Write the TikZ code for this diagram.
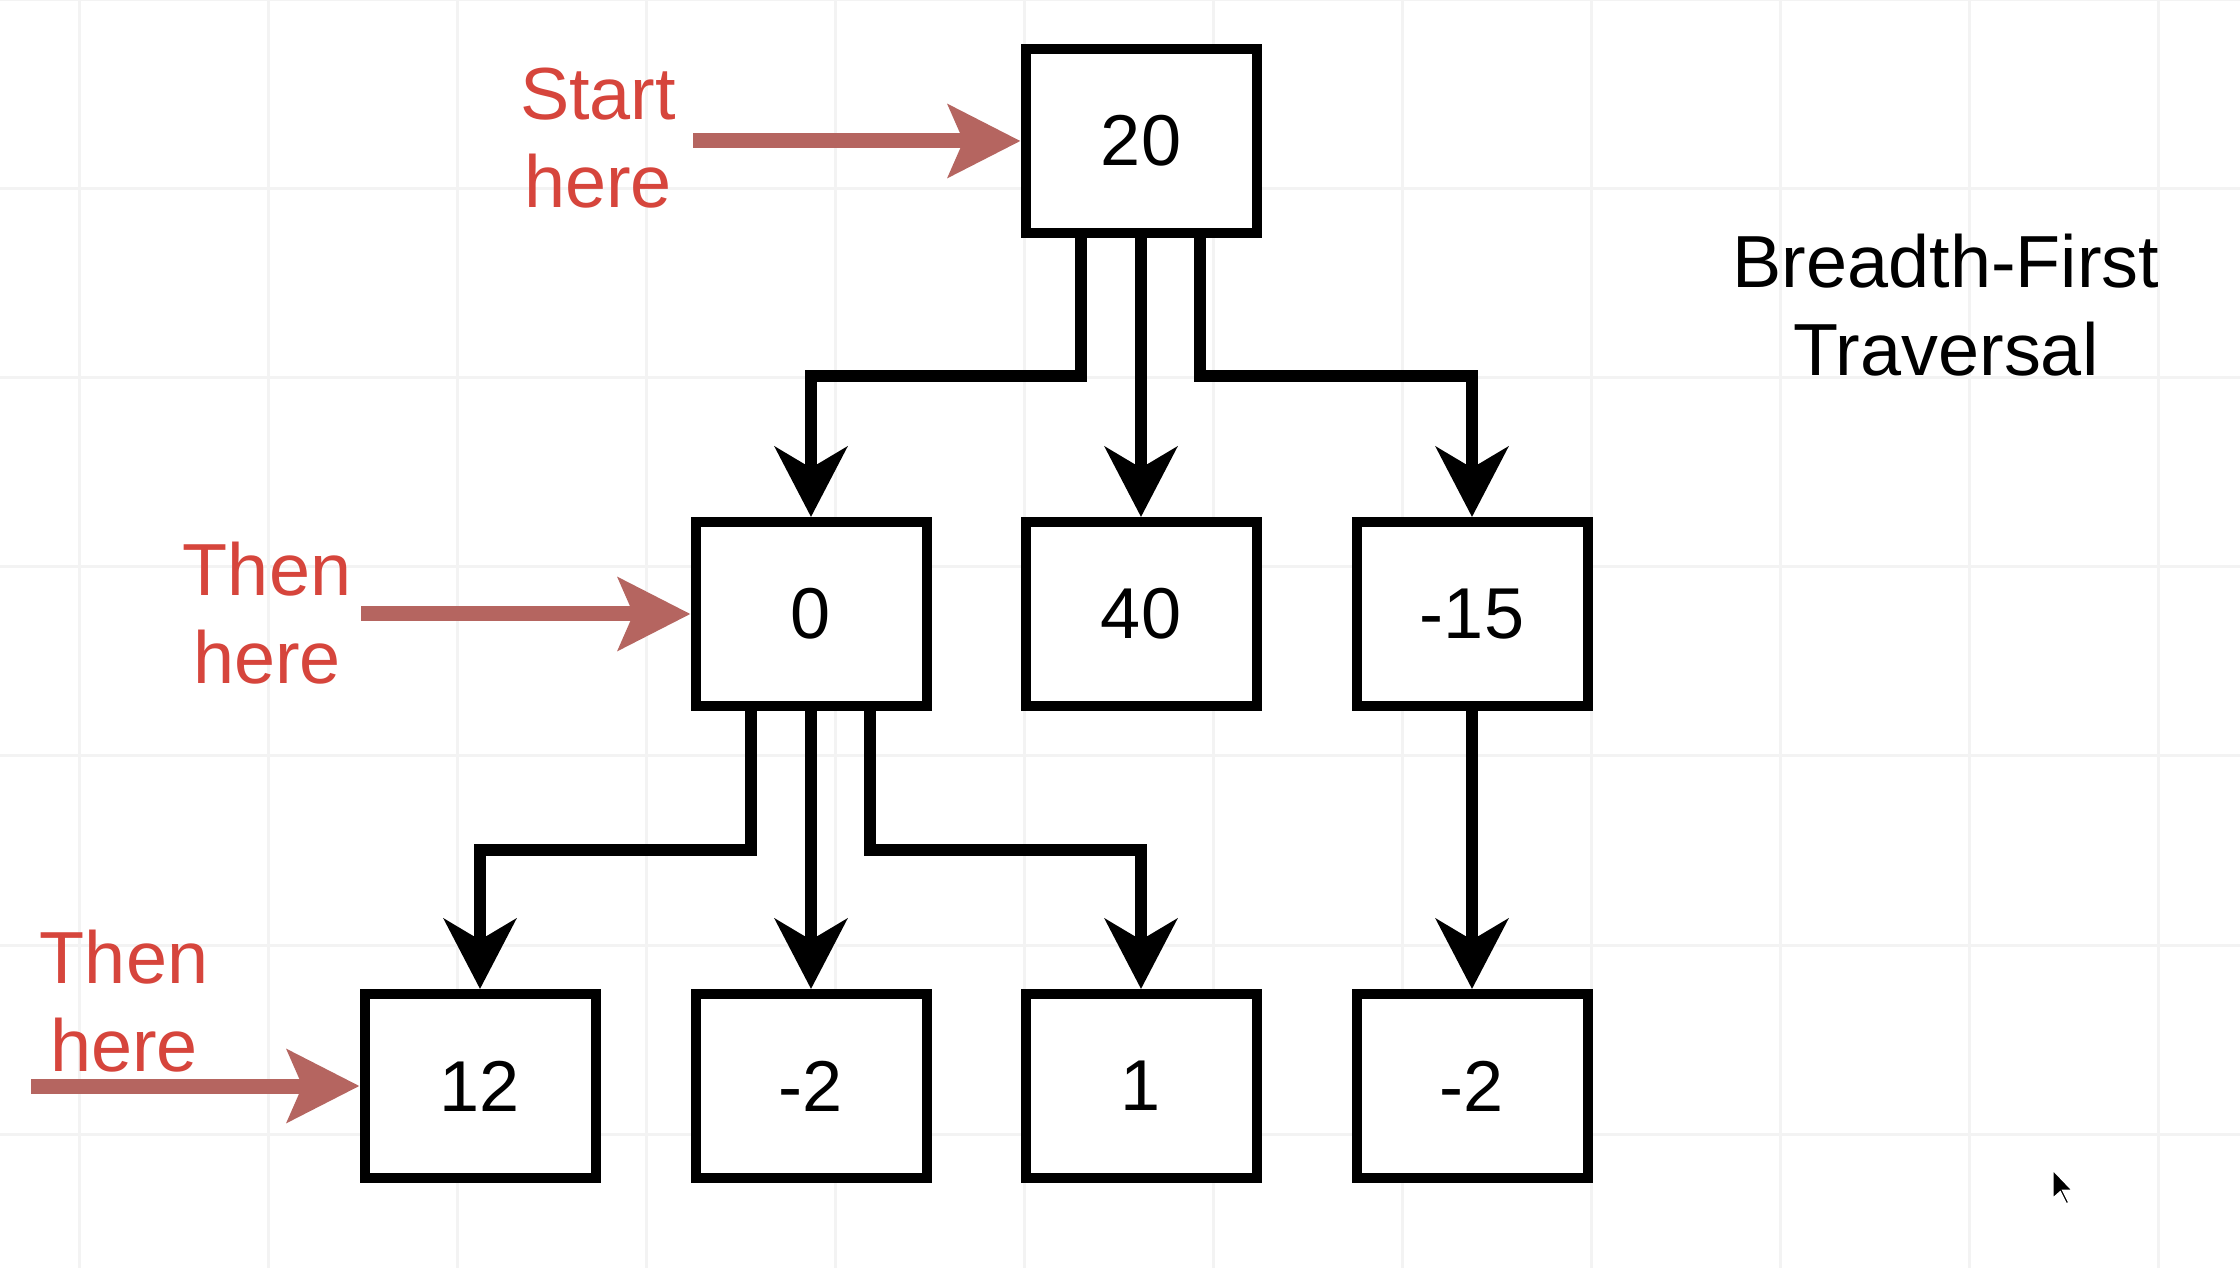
\documentclass[tikz,border=0pt]{standalone}
\usepackage{fontspec}
\setmainfont{Liberation Sans}
\usetikzlibrary{arrows.meta}
\definecolor{hintred}{RGB}{214,69,60}
\definecolor{pointred}{RGB}{181,101,96}
\definecolor{gridgray}{RGB}{243,243,243}
\begin{document}
\begin{tikzpicture}[
        treenode/.style={draw,line width=1mm,fill=white,minimum width=2.31cm,minimum height=1.84cm,font=\fontsize{20.5}{25}\selectfont},
        link/.style={line width=1.2mm,line join=miter,-{Stealth[length=7mm,width=7.2mm,inset=2.1mm]}},
        pointer/.style={pointred,line width=1.5mm,-{Stealth[length=7.2mm,width=7.2mm,inset=1.5mm]}},
        hint/.style={hintred,align=center,font=\fontsize{21}{25}\selectfont}]
        \useasboundingbox (0,0) rectangle (22.4,-12.68);
        \fill[white] (0,0) rectangle (22.4,-12.68);
        \foreach \x in {0.79,2.68,...,22.4} \draw[gridgray,line width=0.3mm] (\x,0) -- (\x,-12.68);
        \foreach \y in {0,-1.89,...,-12.68} \draw[gridgray,line width=0.3mm] (0,\y) -- (22.4,\y);
        \node[treenode] (n20) at (11.41,-1.41) {20};
        \node[treenode] (n0) at (8.11,-6.14) {0};
        \node[treenode] (n40) at (11.41,-6.14) {40};
        \node[treenode] (nm15) at (14.72,-6.14) {-15};
        \node[treenode] (n12) at (4.80,-10.86) {12};
        \node[treenode] (nm2a) at (8.11,-10.86) {-2};
        \node[treenode] (n1) at (11.41,-10.86) {1};
        \node[treenode] (nm2b) at (14.72,-10.86) {-2};
        \draw[link] ([xshift=-6mm]n20.south) -- ++(0,-1.38) -| (n0.north);
        \draw[link] (n20.south) -- (n40.north);
        \draw[link] ([xshift=5.9mm]n20.south) -- ++(0,-1.38) -| (nm15.north);
        \draw[link] ([xshift=-6mm]n0.south) -- ++(0,-1.39) -| (n12.north);
        \draw[link] (n0.south) -- (nm2a.north);
        \draw[link] ([xshift=5.9mm]n0.south) -- ++(0,-1.39) -| (n1.north);
        \draw[link] (nm15.south) -- (nm2b.north);
        \node[hint] (start) at (5.98,-1.385) {Start\\here};
        \node[hint] (then1) at (2.67,-6.13) {Then\\here};
        \node[hint] (then2) at (1.24,-10.01) {Then\\here};
        \coordinate (p0) at (6.93,-1.41);
        \coordinate (p1) at (3.61,-6.14);
        \coordinate (p2) at (0.31,-10.86);
        \draw[pointer] (p0) -- (n20.west);
        \draw[pointer] (p1) -- (n0.west);
        \draw[pointer] (p2) -- (n12.west);
        \node[align=center,font=\fontsize{21}{25}\selectfont] (title) at (19.46,-3.05) {Breadth-First\\Traversal};
        \fill[black,draw=white,line width=0.3mm] (20.52,-11.68) -- (20.52,-12.0) -- (20.60,-11.93) -- (20.66,-12.05) -- (20.70,-12.03) -- (20.64,-11.91) -- (20.74,-11.91) -- cycle;
    \end{tikzpicture}
\end{document}
